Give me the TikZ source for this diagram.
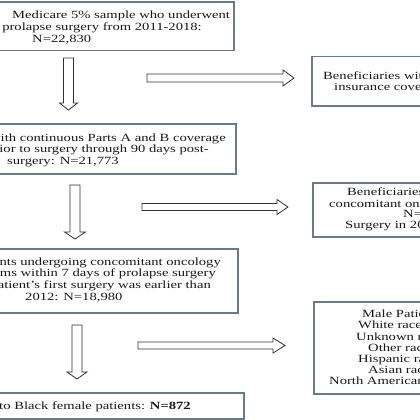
\documentclass[tikz,border=0pt]{standalone}
\usepackage{fontspec}
\setmainfont{Liberation Serif}[FakeStretch=1.33]
\definecolor{boxc}{RGB}{105,122,138}
\definecolor{arrc}{RGB}{50,50,50}
\definecolor{txtc}{RGB}{25,25,25}
\tikzset{
  box/.style={draw=boxc, line width=1.5pt, fill=white, inner sep=0pt, anchor=north west},
  txt/.style={inner sep=0pt, font=\fontsize{11}{11.5}\selectfont, text=txtc},
  barrow/.style={draw=arrc, line width=0.8pt, fill=white, line join=miter}
}
\begin{document}
\begin{tikzpicture}[x=1pt, y=-1pt]
\useasboundingbox (0,0) rectangle (420,420);
% boxes
\node[box, minimum width=313pt, minimum height=48.5pt] (b1) at (-80,1.5) {};
\node[box, minimum width=230pt, minimum height=49pt] (b2) at (311,56) {};
\node[box, minimum width=315pt, minimum height=50pt] (b3) at (-80,123) {};
\node[box, minimum width=230pt, minimum height=54pt] (b4) at (312,182) {};
\node[box, minimum width=317pt, minimum height=64pt] (b5) at (-80,248) {};
\node[box, minimum width=230pt, minimum height=92pt] (b6) at (313,301) {};
\node[box, minimum width=323pt, minimum height=26pt] (b7) at (-80,392) {};
% box 1
\node[txt, anchor=base west] (t1a) at (12,19) {Medicare 5\% sample who underwent};
\node[txt, anchor=base east] (t1b) at (202,30.5) {prolapse surgery from 2011-2018:};
\node[txt, anchor=base west] (t1c) at (32,42) {N=22,830};
% box 2
\node[txt, anchor=base west] (t2a) at (323,79) {Beneficiaries without Parts A and B};
\node[txt, anchor=base west] (t2b) at (334,90) {insurance coverage: N=1,057};
% box 3
\node[txt, anchor=base east] (t3a) at (226,141) {Women with continuous Parts A and B coverage};
\node[txt, anchor=base east] (t3b) at (209,152.5) {prior to surgery through 90 days post-};
\node[txt, anchor=base west] (t3c) at (7,164) {surgery: N=21,773};
% box 4
\node[txt, anchor=base west] (t4a) at (347,195) {Beneficiaries with};
\node[txt, anchor=base west] (t4b) at (329,207) {concomitant oncology claims};
\node[txt, anchor=base west] (t4c) at (403,217) {N=2,793};
\node[txt, anchor=base west] (t4d) at (345,228) {Surgery in 2011};
% box 5
\node[txt, anchor=base east] (t5a) at (221,265) {Excluding patients undergoing concomitant oncology};
\node[txt, anchor=base east] (t5b) at (216,276.5) {claims within 7 days of prolapse surgery};
\node[txt, anchor=base east] (t5c) at (211,288) {or if patient's first surgery was earlier than};
\node[txt, anchor=base west] (t5d) at (25,300) {2012: N=18,980};
% box 6
\node[txt, anchor=base west] (t6a) at (362,317) {Male Patients};
\node[txt, anchor=base west] (t6b) at (358,328) {White race};
\node[txt, anchor=base west] (t6c) at (356,340) {Unknown race};
\node[txt, anchor=base west] (t6d) at (368,351) {Other race};
\node[txt, anchor=base west] (t6e) at (358,362) {Hispanic race};
\node[txt, anchor=base west] (t6f) at (368,373) {Asian race};
\node[txt, anchor=base west] (t6g) at (329,384) {North American Native};
% box 7
\node[txt, anchor=base east] (t7a) at (191,409) {Restricted to Black female patients: \textbf{N=872}};
% block arrows (vertical)
\draw[barrow] (63.5,58) -- (73.5,58) -- (73.5,103) -- (77.5,103) -- (68.5,110) -- (59.5,103) -- (63.5,103) -- cycle;
\draw[barrow] (70,185) -- (80,185) -- (80,232) -- (85.5,232) -- (75,239) -- (64.5,232) -- (70,232) -- cycle;
\draw[barrow] (72,325) -- (82,325) -- (82,372) -- (87,372) -- (77,379) -- (67,372) -- (72,372) -- cycle;
% block arrows (horizontal)
\draw[barrow] (147,74) -- (283,74) -- (283,70) -- (294,78) -- (283,86) -- (283,82) -- (147,82) -- cycle;
\draw[barrow] (142,203.5) -- (277,203.5) -- (277,199.5) -- (288,207) -- (277,214.5) -- (277,210.5) -- (142,210.5) -- cycle;
\draw[barrow] (138,342) -- (273,342) -- (273,338) -- (285,345.5) -- (273,353) -- (273,349) -- (138,349) -- cycle;
\end{tikzpicture}
\end{document}
